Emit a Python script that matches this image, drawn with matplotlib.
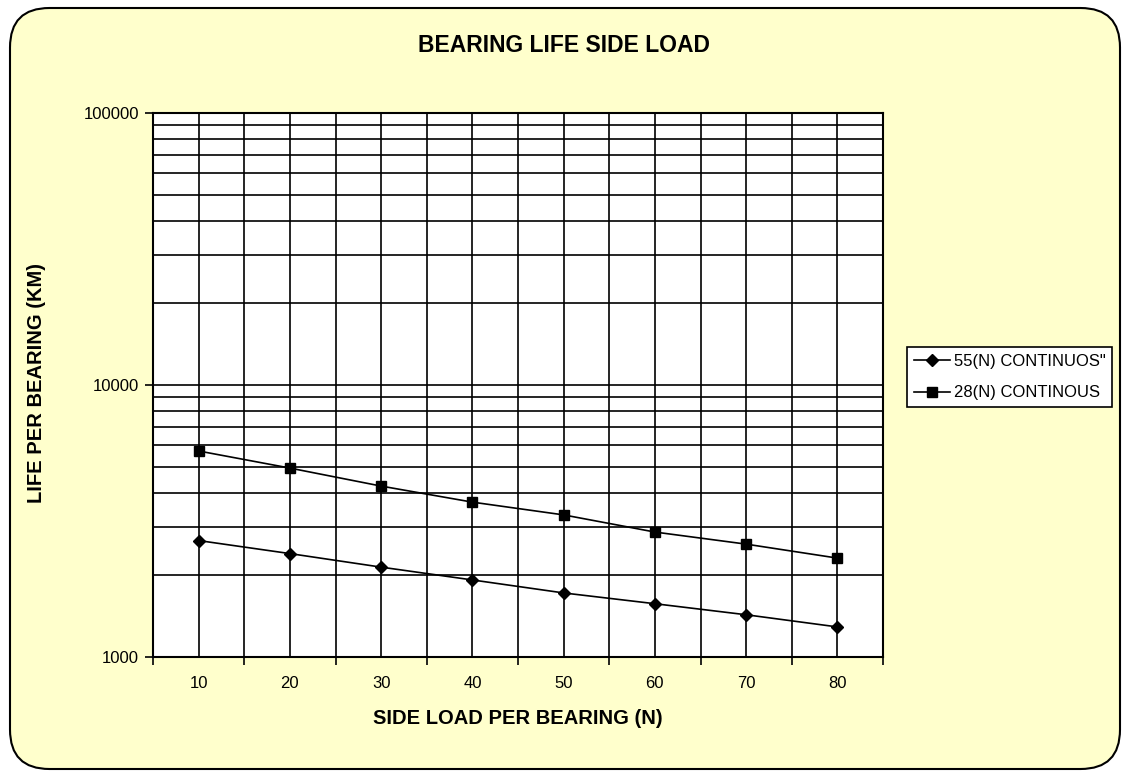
import matplotlib.pyplot as plt
from matplotlib.patches import FancyBboxPatch
from matplotlib.ticker import LogLocator, FixedLocator, NullFormatter

plt.rcParams['font.family'] = ['Liberation Sans', 'DejaVu Sans']

side_load = [10, 20, 30, 40, 50, 60, 70, 80]
life_55n = [2680, 2400, 2140, 1920, 1720, 1570, 1430, 1290]
life_28n = [5720, 4950, 4250, 3710, 3330, 2880, 2600, 2310]
labels = ['55(N) CONTINUOS"', '28(N) CONTINOUS']

fig = plt.figure(figsize=(11.28, 7.75), dpi=100)
fig.patch.set_facecolor('white')
bg = FancyBboxPatch((10 / 1128, 6 / 775), 1110 / 1128, 761 / 775,
                    boxstyle='round,pad=0,rounding_size=0.035',
                    transform=fig.transFigure, facecolor='#FFFFCC',
                    edgecolor='black', linewidth=1.5, mutation_aspect=1128 / 775,
                    zorder=-1)
fig.patches.append(bg)

ax = fig.add_axes([153 / 1128, 118 / 775, 730 / 1128, 544 / 775])
ax.set_facecolor('white')
pos = list(range(len(side_load)))
ax.plot(pos, life_55n, '-D', color='black', lw=1.2, ms=6, label=labels[0], zorder=3)
ax.plot(pos, life_28n, '-s', color='black', lw=1.2, ms=7, label=labels[1], zorder=3)

ax.set_yscale('log')
ax.set_ylim(1000, 100000)
ax.set_xlim(-0.5, len(side_load) - 0.5)
ax.yaxis.set_major_locator(FixedLocator([1000, 10000, 100000]))
ax.yaxis.set_minor_locator(LogLocator(base=10, subs=range(2, 10)))
ax.yaxis.set_minor_formatter(NullFormatter())
ax.set_yticklabels(['1000', '10000', '100000'])
ax.tick_params(axis='y', which='major', length=6, width=1.2, labelsize=12, pad=4)
ax.tick_params(axis='y', which='minor', length=0)

ax.set_xticks(pos)
ax.set_xticklabels([str(v) for v in side_load])
ax.set_xticks([p - 0.5 for p in range(len(side_load) + 1)], minor=True)
ax.tick_params(axis='x', which='major', length=0, labelsize=12, pad=14)
ax.tick_params(axis='x', which='minor', length=6, width=1.2, direction='out')

ax.grid(True, which='both', axis='both', color='black', linewidth=1.2)
ax.set_axisbelow(True)
for s in ax.spines.values():
    s.set_linewidth(1.5)
    s.set_zorder(4)

fig.text(564 / 1128, 1 - 45 / 775, 'BEARING LIFE SIDE LOAD', ha='center', va='center',
         fontsize=16.5, fontweight='bold')
fig.text(518 / 1128, 1 - 719 / 775, 'SIDE LOAD PER BEARING (N)', ha='center', va='center',
         fontsize=14.5, fontweight='bold')
fig.text(37 / 1128, 1 - 383 / 775, 'LIFE PER BEARING (KM)', ha='center', va='center',
         rotation=90, fontsize=14.5, fontweight='bold')

leg = fig.legend(loc='upper left', bbox_to_anchor=(907 / 1128, 1 - 347 / 775),
                 frameon=True, fancybox=False, edgecolor='black', facecolor='white',
                 framealpha=1, fontsize=12, handlelength=2.2, borderpad=0.4,
                 labelspacing=1.0, handletextpad=0.2, borderaxespad=0)
leg.get_frame().set_linewidth(1.2)

fig.savefig('out.png', dpi=100)
